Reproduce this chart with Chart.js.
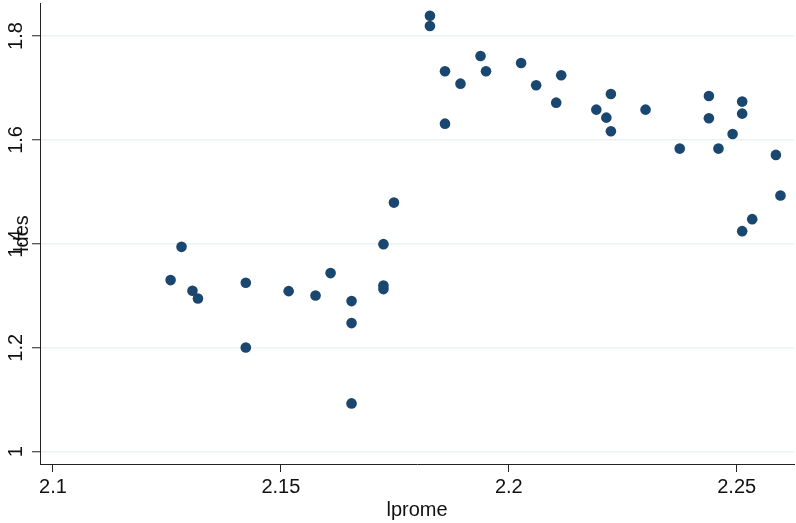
<!DOCTYPE html>
<html>
<head>
<meta charset="utf-8">
<script src="https://cdn.jsdelivr.net/npm/chart.js@4.4.1/dist/chart.umd.min.js"></script>
<style>
  html, body { margin: 0; padding: 0; background: #ffffff; }
  #wrap { width: 796px; height: 523px; position: relative; }
</style>
</head>
<body>
<div id="wrap"><canvas id="c" width="796" height="523"></canvas></div>
<script>
const lprome = [
  2.1258, 2.1282, 2.1306, 2.1318, 2.1423, 2.1423, 2.1517, 2.1576, 2.1609, 2.1655,
  2.1655, 2.1655, 2.1725, 2.1725, 2.1725, 2.1748, 2.1827, 2.1827, 2.1860, 2.1860,
  2.1894, 2.1938, 2.1950, 2.2027, 2.2060, 2.2104, 2.2115, 2.2192, 2.2214, 2.2224,
  2.2224, 2.2300, 2.2375, 2.2439, 2.2439, 2.2460, 2.2491, 2.2512, 2.2512, 2.2512,
  2.2534, 2.2586, 2.2596
];
const ldes = [
  1.3302, 1.3942, 1.3096, 1.2948, 1.3250, 1.2006, 1.3090, 1.3006, 1.3437, 1.2898,
  1.2475, 1.0929, 1.3994, 1.3198, 1.3129, 1.4794, 1.8390, 1.8192, 1.7321, 1.6313,
  1.7083, 1.7615, 1.7321, 1.7481, 1.7052, 1.6717, 1.7244, 1.6583, 1.6429, 1.6885,
  1.6167, 1.6583, 1.5833, 1.6846, 1.6417, 1.5833, 1.6115, 1.6737, 1.6506, 1.4244,
  1.4475, 1.5712, 1.4929
];
const xTicks = [2.1, 2.15, 2.2, 2.25];
const yTicks = [1, 1.2, 1.4, 1.6, 1.8];
const xLabel = 'lprome';
const yLabel = 'ldes';

const points = lprome.map((x, i) => ({ x: x, y: ldes[i] }));
const FONT = 'Liberation Sans, Arial, Helvetica, sans-serif';

function noPad(s) { s.paddingTop = 0; s.paddingBottom = 0; s.paddingLeft = 0; s.paddingRight = 0; }

new Chart(document.getElementById('c'), {
  type: 'scatter',
  data: {
    datasets: [{
      data: points,
      backgroundColor: '#1a476f',
      borderColor: '#1a476f',
      borderWidth: 0,
      pointRadius: 5.3,
      pointHoverRadius: 5.3,
      clip: false
    }]
  },
  options: {
    responsive: false,
    animation: false,
    events: [],
    layout: { autoPadding: false, padding: { top: 3, right: 2, left: 0, bottom: 0 } },
    plugins: { legend: { display: false }, tooltip: { enabled: false } },
    scales: {
      x: {
        type: 'linear',
        min: 2.09715,
        max: 2.26257,
        afterBuildTicks: (s) => { s.ticks = xTicks.map(v => ({ value: v })); },
        afterFit: (s) => { s.height = 59; noPad(s); },
        border: { display: true, color: '#222', width: 1 },
        grid: { display: true, drawOnChartArea: false, drawTicks: true, tickLength: 8, tickColor: '#222', tickWidth: 1 },
        ticks: {
          color: '#111', padding: 3, maxRotation: 0, autoSkip: false,
          font: { family: FONT, size: 20 },
          callback: (v) => String(Math.round(v * 100) / 100)
        },
        title: { display: true, text: xLabel, color: '#111', font: { family: FONT, size: 20 }, padding: { top: 0, bottom: 1 } }
      },
      y: {
        type: 'linear',
        min: 0.9763,
        max: 1.8635,
        afterBuildTicks: (s) => { s.ticks = yTicks.map(v => ({ value: v })); },
        afterFit: (s) => { s.width = 40; noPad(s); },
        border: { display: true, color: '#222', width: 1 },
        grid: { display: true, drawOnChartArea: true, color: '#eaf2f3', lineWidth: 1.5, drawTicks: true, tickLength: 8, tickColor: '#222', tickWidth: 1 },
        ticks: {
          color: '#111', padding: 2, minRotation: 90, maxRotation: 90, crossAlign: 'center', autoSkip: false,
          font: { family: FONT, size: 20 },
          callback: (v) => String(Math.round(v * 10) / 10)
        },
        title: { display: true, text: yLabel, color: '#111', font: { family: FONT, size: 20 }, padding: { top: 10, bottom: 0 } }
      }
    }
  }
});
</script>
</body>
</html>
